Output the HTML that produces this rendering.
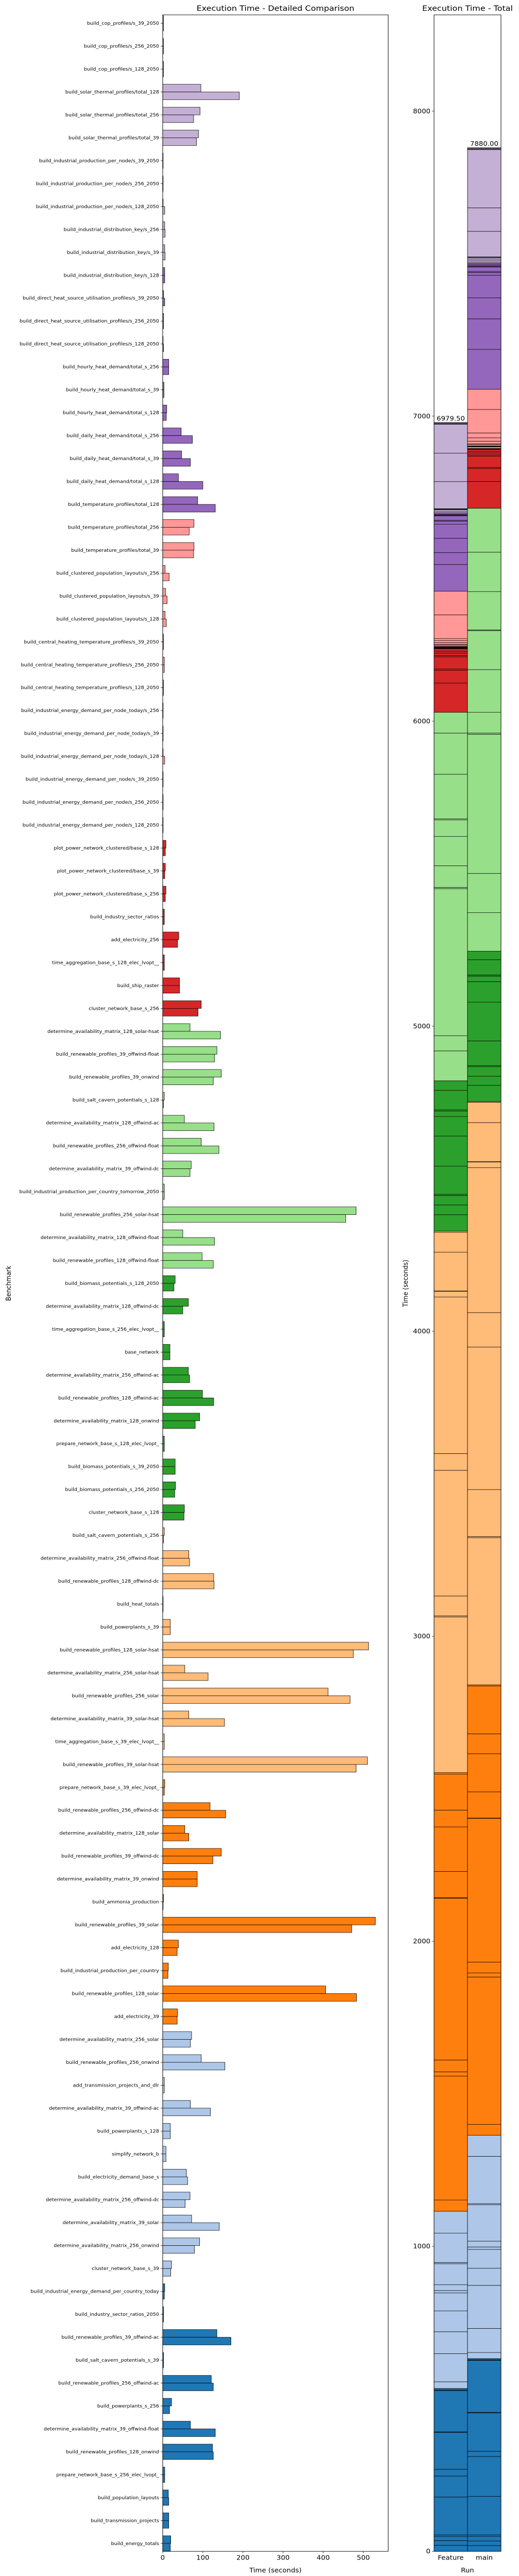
<!DOCTYPE html>
<html>
<head>
<meta charset="utf-8">
<meta name="viewport" content="width=1008, initial-scale=1">
<style>
  html, body { margin:0; padding:0; background:#fff; width:100%; height:100%; overflow:hidden; }
  #chart { position:absolute; left:0; top:0; width:100vw; height:100vh; display:block; }
  svg text { font-family: "DejaVu Sans", "Liberation Sans", sans-serif; fill:#000; }
</style>
</head>
<body>
<svg id="chart" xmlns="http://www.w3.org/2000/svg" viewBox="0 0 1008 5540" preserveAspectRatio="none">
  <rect x="0" y="0" width="1008" height="5540" fill="#fff"/>
  <text x="535" y="23" text-anchor="middle" font-size="16">Execution Time - Detailed Comparison</text>
  <text x="908" y="23" text-anchor="middle" font-size="16">Execution Time - Total</text>
  <text transform="translate(21,2760) rotate(-90)" text-anchor="middle" font-size="13.3">Benchmark</text>
  <text x="535" y="5532" text-anchor="middle" font-size="13.3">Time (seconds)</text>
  <text transform="translate(792,2760) rotate(-90)" text-anchor="middle" font-size="13.3">Time (seconds)</text>
  <text x="908" y="5532" text-anchor="middle" font-size="13.3">Run</text>
  <g id="left"></g>
  <g id="right"></g>
</svg>
<script>
const categories = [
"build_cop_profiles/s_39_2050","build_cop_profiles/s_256_2050","build_cop_profiles/s_128_2050",
"build_solar_thermal_profiles/total_128","build_solar_thermal_profiles/total_256","build_solar_thermal_profiles/total_39",
"build_industrial_production_per_node/s_39_2050","build_industrial_production_per_node/s_256_2050","build_industrial_production_per_node/s_128_2050",
"build_industrial_distribution_key/s_256","build_industrial_distribution_key/s_39","build_industrial_distribution_key/s_128",
"build_direct_heat_source_utilisation_profiles/s_39_2050","build_direct_heat_source_utilisation_profiles/s_256_2050","build_direct_heat_source_utilisation_profiles/s_128_2050",
"build_hourly_heat_demand/total_s_256","build_hourly_heat_demand/total_s_39","build_hourly_heat_demand/total_s_128",
"build_daily_heat_demand/total_s_256","build_daily_heat_demand/total_s_39","build_daily_heat_demand/total_s_128",
"build_temperature_profiles/total_128","build_temperature_profiles/total_256","build_temperature_profiles/total_39",
"build_clustered_population_layouts/s_256","build_clustered_population_layouts/s_39","build_clustered_population_layouts/s_128",
"build_central_heating_temperature_profiles/s_39_2050","build_central_heating_temperature_profiles/s_256_2050","build_central_heating_temperature_profiles/s_128_2050",
"build_industrial_energy_demand_per_node_today/s_256","build_industrial_energy_demand_per_node_today/s_39","build_industrial_energy_demand_per_node_today/s_128",
"build_industrial_energy_demand_per_node/s_39_2050","build_industrial_energy_demand_per_node/s_256_2050","build_industrial_energy_demand_per_node/s_128_2050",
"plot_power_network_clustered/base_s_128","plot_power_network_clustered/base_s_39","plot_power_network_clustered/base_s_256",
"build_industry_sector_ratios","add_electricity_256","time_aggregation_base_s_128_elec_lvopt__",
"build_ship_raster","cluster_network_base_s_256","determine_availability_matrix_128_solar-hsat",
"build_renewable_profiles_39_offwind-float","build_renewable_profiles_39_onwind","build_salt_cavern_potentials_s_128",
"determine_availability_matrix_128_offwind-ac","build_renewable_profiles_256_offwind-float","determine_availability_matrix_39_offwind-dc",
"build_industrial_production_per_country_tomorrow_2050","build_renewable_profiles_256_solar-hsat","determine_availability_matrix_128_offwind-float",
"build_renewable_profiles_128_offwind-float","build_biomass_potentials_s_128_2050","determine_availability_matrix_128_offwind-dc",
"time_aggregation_base_s_256_elec_lvopt__","base_network","determine_availability_matrix_256_offwind-ac",
"build_renewable_profiles_128_offwind-ac","determine_availability_matrix_128_onwind","prepare_network_base_s_128_elec_lvopt_",
"build_biomass_potentials_s_39_2050","build_biomass_potentials_s_256_2050","cluster_network_base_s_128",
"build_salt_cavern_potentials_s_256","determine_availability_matrix_256_offwind-float","build_renewable_profiles_128_offwind-dc",
"build_heat_totals","build_powerplants_s_39","build_renewable_profiles_128_solar-hsat",
"determine_availability_matrix_256_solar-hsat","build_renewable_profiles_256_solar","determine_availability_matrix_39_solar-hsat",
"time_aggregation_base_s_39_elec_lvopt__","build_renewable_profiles_39_solar-hsat","prepare_network_base_s_39_elec_lvopt_",
"build_renewable_profiles_256_offwind-dc","determine_availability_matrix_128_solar","build_renewable_profiles_39_offwind-dc",
"determine_availability_matrix_39_onwind","build_ammonia_production","build_renewable_profiles_39_solar",
"add_electricity_128","build_industrial_production_per_country","build_renewable_profiles_128_solar",
"add_electricity_39","determine_availability_matrix_256_solar","build_renewable_profiles_256_onwind",
"add_transmission_projects_and_dlr","determine_availability_matrix_39_offwind-ac","build_powerplants_s_128",
"simplify_network_b","build_electricity_demand_base_s","determine_availability_matrix_256_offwind-dc",
"determine_availability_matrix_39_solar","determine_availability_matrix_256_onwind","cluster_network_base_s_39",
"build_industrial_energy_demand_per_country_today","build_industry_sector_ratios_2050","build_renewable_profiles_39_offwind-ac",
"build_salt_cavern_potentials_s_39","build_renewable_profiles_256_offwind-ac","build_powerplants_s_256",
"determine_availability_matrix_39_offwind-float","build_renewable_profiles_128_onwind","prepare_network_base_s_256_elec_lvopt_",
"build_population_layouts","build_transmission_projects","build_energy_totals"
];
const featureValues = [2,2,2,95,93,89,1,1,1,5,5,5,2,2,1,15,3,10,46,47,39,87,78,78,6,7,6,2,4,2,1,1,1,1,1,1,8,6.5,8,4,40,4,42,96,68,135,146,4,54,96,71,4,482,50,98,31,64,4,18,64,99,92,4,31,32,54,4,65,127,1,19,513,55,412,65,4,510,5,118,55,146,86,2,530,39,14,406,37,72,96,4,69,19,8,59,68,72,92,22,5,2,135,2,121,22,69,124,5,14,15,20];
const mainValues = [2,2,2,191,77,84,1,1,5,6,6,5,5,2,2,15,3,9,74,69,100,131,66,77,16,11,9,2,4,2,1,1,5,1,1,1,6.5,5,6.5,4,37,4,42,88,144,129,126,2,128,140,68,4,456,129,126,28,50,4,18,67,127,81,4,31,30,53,2,67,128,1,19,475,113,467,154,4,482,4,157,65,125,86,1,471,36,13,483,36,69,155,4,119,19,8,62,56,141,79,20,4,2,170,2,126,17,131,126,5,15,15,19];
const runs = ["Feature","main"];
const xTicks = [0,100,200,300,400,500];
const yTotalTicks = [0,1000,2000,3000,4000,5000,6000,7000,8000];

const NS = "http://www.w3.org/2000/svg";
const palette = ["#c5b0d5","#9467bd","#ff9896","#d62728","#98df8a","#2ca02c","#ffbb78","#ff7f0e","#aec7e8","#1f77b4"];
function colorFor(i){ return palette[Math.min(Math.floor(i/11), 9)]; }
function mk(tag, attrs, parent){ const e=document.createElementNS(NS,tag); for(const k in attrs) e.setAttribute(k,attrs[k]); parent.appendChild(e); return e; }

const L = {left:316, right:754, top:32, bottom:5487, xmax:562};
const n = categories.length;
const rowStep = (5470-50)/(n-1);
function xS(v){ return L.left + v*(L.right-L.left)/L.xmax; }
function yRow(i){ return 50 + i*rowStep; }
const barH = 16.5;
const left = document.getElementById('left');

categories.forEach((c,i)=>{
  const yc = yRow(i);
  const t = mk('text',{x:309,y:yc+3.3,'text-anchor':'end','font-size':'9.6'},left);
  t.textContent = c;
  
  
  const tk = mk('line',{x1:312,x2:L.left,y1:yc,y2:yc,stroke:'#000','stroke-width':0.8},left);
  
  
  const b1 = mk('rect',{x:L.left,y:yc-barH,width:Math.max(0.3,xS(featureValues[i])-L.left),height:barH,fill:colorFor(i),stroke:'#000','stroke-width':0.8},left);
  
  
  const b2 = mk('rect',{x:L.left,y:yc,width:Math.max(0.3,xS(mainValues[i])-L.left),height:barH,fill:colorFor(i),stroke:'#000','stroke-width':0.8},left);
  
  
});
xTicks.forEach(v=>{
  const x = xS(v);
  const tl = mk('line',{x1:x,x2:x,y1:L.bottom,y2:L.bottom+4,stroke:'#000','stroke-width':0.8},left);
  
  
  const tt = mk('text',{x:x,y:L.bottom+18,'text-anchor':'middle','font-size':'13.3'},left);
  tt.textContent = String(v);
  
  
});
const frameL = mk('rect',{x:L.left,y:L.top,width:L.right-L.left,height:L.bottom-L.top,fill:'none',stroke:'#000','stroke-width':1},left);



const R = {left:843, right:973, top:32, bottom:5487};
const pxPerUnit = 5248/8000;
function yT(v){ return R.bottom - v*pxPerUnit; }
const right = document.getElementById('right');
const unitW = (R.right-R.left)/2;
[featureValues, mainValues].forEach((vals,r)=>{
  const x0 = R.left + r*unitW;
  let acc = 0;
  for(let i=n-1;i>=0;i--){
    const v = vals[i];
    const seg = mk('rect',{x:x0,y:yT(acc+v),width:unitW,height:Math.max(0.2,yT(acc)-yT(acc+v)),fill:colorFor(i),stroke:'#000','stroke-width':0.8},right);
    
    
    acc += v;
  }
  const lab = mk('text',{x:x0+unitW/2,y:yT(acc)-4,'text-anchor':'middle','font-size':'13.3'},right);
  lab.textContent = acc.toFixed(2);
  
  
  const xl = mk('text',{x:x0+unitW/2,y:R.bottom+18,'text-anchor':'middle','font-size':'13.3'},right);
  xl.textContent = runs[r];
  
  
});
yTotalTicks.forEach(v=>{
  const y = yT(v);
  const tl = mk('line',{x1:R.left-4,x2:R.left,y1:y,y2:y,stroke:'#000','stroke-width':0.8},right);
  
  
  const tt = mk('text',{x:R.left-7,y:y+4.5,'text-anchor':'end','font-size':'13.3'},right);
  tt.textContent = String(v);
  
  
});
const frameR = mk('rect',{x:R.left,y:R.top,width:R.right-R.left,height:R.bottom-R.top,fill:'none',stroke:'#000','stroke-width':1},right);


</script>
</body>
</html>
